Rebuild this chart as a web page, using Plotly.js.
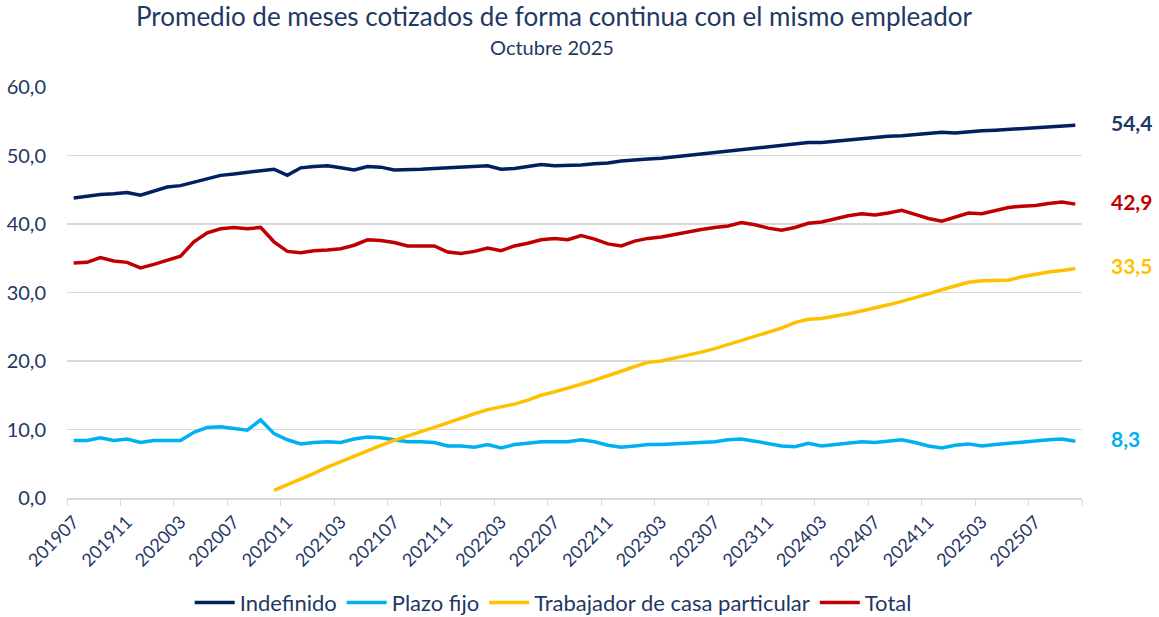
<!DOCTYPE html>
<html>
<head>
<meta charset="utf-8">
<script src="https://cdn.plot.ly/plotly-3.0.1.min.js"></script>
<style>html,body{margin:0;padding:0;background:#fff;}#chart{width:1159px;height:617px;}</style>
</head>
<body>
<div id="chart"></div>
<script>
// Months 201907 .. 202510
const months = ["201907","201908","201909","201910","201911","201912",
"202001","202002","202003","202004","202005","202006","202007","202008","202009","202010","202011","202012",
"202101","202102","202103","202104","202105","202106","202107","202108","202109","202110","202111","202112",
"202201","202202","202203","202204","202205","202206","202207","202208","202209","202210","202211","202212",
"202301","202302","202303","202304","202305","202306","202307","202308","202309","202310","202311","202312",
"202401","202402","202403","202404","202405","202406","202407","202408","202409","202410","202411","202412",
"202501","202502","202503","202504","202505","202506","202507","202508","202509","202510"];

const indefinido = [43.8,44.1,44.3,44.4,44.6,44.2,44.8,45.4,45.6,46.1,46.7,47.1,47.3,47.5,47.7,48.0,47.1,48.2,
48.4,48.5,48.2,47.9,48.4,48.3,47.9,47.9,48.0,48.1,48.2,48.3,48.3,48.5,48.0,48.1,48.4,48.7,
48.5,48.5,48.6,48.8,48.9,49.2,49.4,49.5,49.6,49.8,50.0,50.2,50.4,50.6,50.8,51.0,51.2,51.4,
51.6,51.9,51.9,52.1,52.3,52.4,52.6,52.8,52.9,53.1,53.3,53.4,53.3,53.5,53.6,53.7,53.8,53.9,
54.0,54.2,54.3,54.4];

const plazoFijo = [8.4,8.4,8.8,8.4,8.6,8.1,8.4,8.4,8.4,9.6,10.3,10.4,10.2,9.9,11.4,9.4,8.5,7.9,
8.1,8.2,8.1,8.6,8.9,8.8,8.5,8.2,8.2,8.1,7.6,7.6,7.4,7.8,7.3,7.8,8.0,8.2,
8.2,8.2,8.5,8.2,7.7,7.4,7.6,7.8,7.8,7.9,8.0,8.1,8.2,8.5,8.6,8.3,8.0,7.6,
7.5,8.0,7.6,7.8,8.0,8.2,8.1,8.3,8.5,8.1,7.6,7.3,7.7,7.9,7.6,7.8,8.0,8.2,
8.3,8.5,8.6,8.3];

// Trabajador de casa particular: no data before 202010
const casaParticular = [null,null,null,null,null,null,null,null,null,null,null,null,null,null,null,
1.1,1.9,2.8,3.6,4.5,5.3,6.2,7.0,7.7,8.4,9.1,9.7,10.3,11.0,11.6,12.3,12.9,13.3,13.7,14.3,15.0,
15.5,16.0,16.6,17.2,17.8,18.5,19.2,19.8,20.0,20.4,20.8,21.3,21.8,22.4,22.9,23.5,24.1,24.8,
25.6,26.1,26.2,26.5,26.9,27.3,27.7,28.2,28.7,29.2,29.8,30.4,30.9,31.5,31.7,31.7,31.8,32.3,
32.7,33.0,33.2,33.5];

const total = [34.3,34.4,35.1,34.6,34.4,33.6,34.1,34.7,35.3,37.4,38.7,39.3,39.5,39.3,39.5,37.4,36.0,35.8,
36.1,36.2,36.4,36.9,37.7,37.6,37.3,36.8,36.8,36.8,35.9,35.7,36.0,36.5,36.1,36.8,37.2,37.7,
37.9,37.7,38.3,37.8,37.1,36.8,37.5,37.9,38.1,38.5,38.9,39.2,39.5,39.7,40.2,39.9,39.4,39.1,
39.5,40.1,40.3,40.8,41.2,41.5,41.3,41.6,42.0,41.4,40.8,40.4,41.0,41.6,41.5,41.9,42.4,42.6,
42.7,43.0,43.2,42.9];

const seriesNames = ["Indefinido","Plazo fijo","Trabajador de casa particular","Total"];
const seriesColors = ["#002060","#00B0F0","#FFC000","#C00000"];
const labelColors = ["#1F3864","#00B0F0","#FFC000","#C00000"];
const seriesData = [indefinido, plazoFijo, casaParticular, total];

const TXT = "#1F3864";
const FONT = "Lato, 'Open Sans', sans-serif";

const traces = seriesData.map((d, k) => ({
  type: "scatter", mode: "lines", name: seriesNames[k],
  x: months, y: d,
  line: {color: seriesColors[k], width: 3.5},
  connectgaps: false, hoverinfo: "skip"
}));

const fmt = v => v.toFixed(1).replace(".", ",");
const lastIdx = months.length - 1;
const endLabels = seriesData.map((d, k) => ({
  xref: "x", yref: "y", x: lastIdx, y: d[lastIdx],
  text: "<b>" + fmt(d[lastIdx]) + "</b>",
  showarrow: false, xanchor: "left", yanchor: "middle",
  xshift: 34, yshift: 3,
  font: {family: FONT, size: 21, color: labelColors[k]}
}));

const layout = {
  width: 1159, height: 617,
  paper_bgcolor: "#fff", plot_bgcolor: "#fff",
  margin: {l: 67, r: 77, t: 87, b: 119, autoexpand: false},
  separators: ",.",
  font: {family: FONT, color: TXT},
  title: {
    text: "Promedio de meses cotizados de forma continua con el mismo empleador",
    x: 0.478, xref: "container", xanchor: "center",
    y: 0.972, yref: "container", yanchor: "middle",
    font: {family: FONT, size: 26, color: TXT}
  },
  xaxis: {
    type: "category",
    tickmode: "linear", tick0: 0, dtick: 4,
    tickson: "boundaries",
    ticks: "outside", ticklen: 6, tickcolor: "#D9D9D9",
    showline: true, linecolor: "#D9D9D9", linewidth: 1.5,
    showgrid: false, zeroline: false,
    tickangle: -45,
    ticklabelstandoff: 5,
    automargin: false,
    tickfont: {family: FONT, size: 18, color: TXT},
    range: [-0.5, months.length - 0.5]
  },
  yaxis: {
    range: [0, 60], dtick: 10, tickformat: ".1f",
    showgrid: true, gridcolor: "#D9D9D9", gridwidth: 1.5,
    zeroline: false, showline: false, ticks: "",
    ticklabelstandoff: 20,
    automargin: false,
    tickfont: {family: FONT, size: 20, color: TXT}
  },
  showlegend: true,
  legend: {
    orientation: "h", x: 0.479, xanchor: "center",
    y: -0.255, yanchor: "middle",
    font: {family: FONT, size: 22, color: TXT},
    itemwidth: 40, tracegroupgap: 0
  },
  annotations: [
    {xref: "paper", yref: "paper", x: 0.478, y: 1.097, xanchor: "center", yanchor: "middle",
     text: "Octubre 2025", showarrow: false, font: {family: FONT, size: 20, color: TXT}}
  ].concat(endLabels)
};

Plotly.newPlot("chart", traces, layout, {displayModeBar: false, staticPlot: true});
</script>
</body>
</html>
